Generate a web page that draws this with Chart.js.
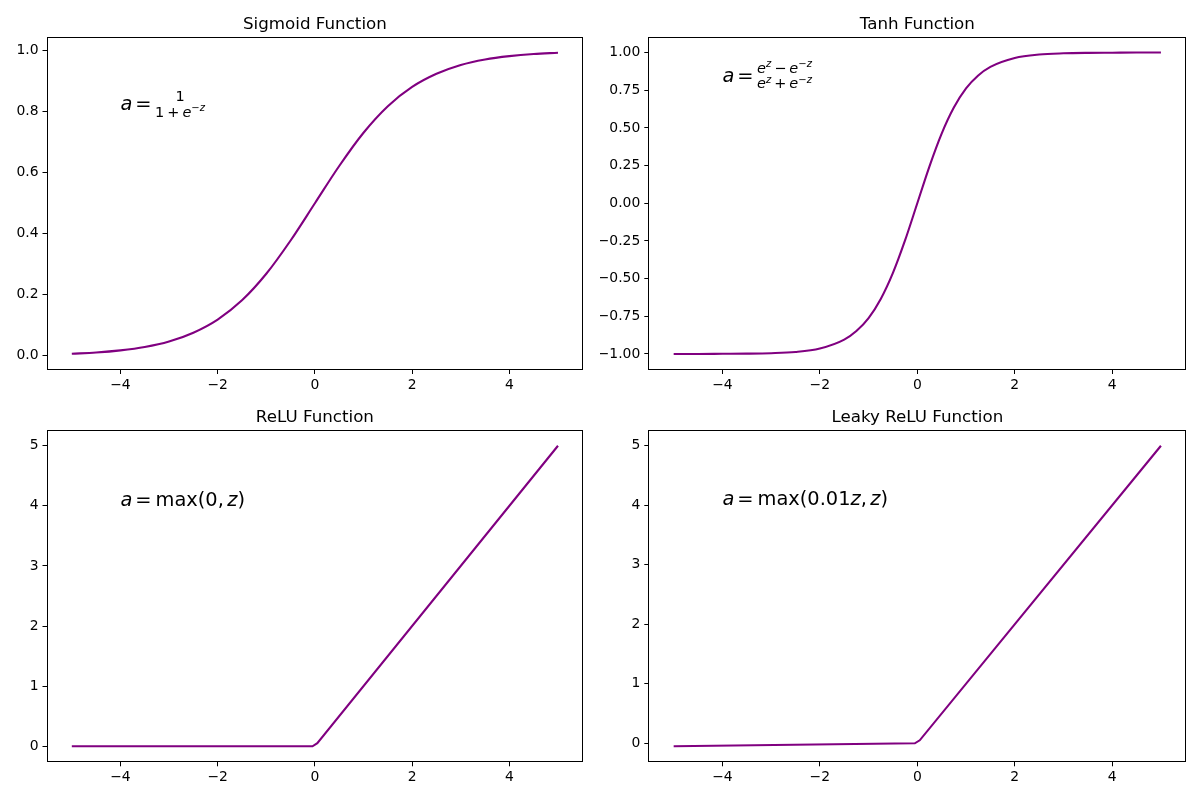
<!DOCTYPE html>
<html lang="en">
<head>
    <meta charset="UTF-8">
    <title>Activation Functions</title>
    <script src="https://cdn.jsdelivr.net/npm/chart.js@4.4.0/dist/chart.umd.min.js"></script>
    <style>
        body { margin: 0; background: #fff; }
        #wrap { position: relative; width: 1200px; height: 800px; }
        canvas { position: absolute; }
    </style>
</head>
<body>
<div id="wrap">
    <canvas id="c1" width="600" height="400" style="left:0;top:0"></canvas>
    <canvas id="c2" width="600" height="400" style="left:600px;top:0"></canvas>
    <canvas id="c3" width="600" height="400" style="left:0;top:400px"></canvas>
    <canvas id="c4" width="600" height="400" style="left:600px;top:400px"></canvas>
</div>
<script>
// values
const sigmoidX = [-5, -4.5, -4, -3.5, -3, -2.5, -2, -1.5, -1, -0.5, 0, 0.5, 1, 1.5, 2, 2.5, 3, 3.5, 4, 4.5, 5];
const sigmoidY = [0.007, 0.011, 0.018, 0.029, 0.047, 0.076, 0.119, 0.182, 0.269, 0.378, 0.500, 0.622, 0.731, 0.818, 0.881, 0.924, 0.953, 0.971, 0.982, 0.989, 0.993];

const tanhX = [-5, -4.5, -4, -3.5, -3, -2.5, -2, -1.5, -1.25, -1, -0.75, -0.5, -0.25, 0, 0.25, 0.5, 0.75, 1, 1.25, 1.5, 2, 2.5, 3, 3.5, 4, 4.5, 5];
const tanhY = [-1.000, -1.000, -0.999, -0.998, -0.995, -0.987, -0.964, -0.905, -0.848, -0.762, -0.635, -0.462, -0.245, 0, 0.245, 0.462, 0.635, 0.762, 0.848, 0.905, 0.964, 0.987, 0.995, 0.998, 0.999, 1.000, 1.000];

const reluX = [-5, -0.05, 0.05, 5];
const reluY = [0, 0, 0.05, 5];

const leakyX = [-5, -0.05, 0.05, 5];
const leakyY = [-0.05, -0.0005, 0.05, 5];

const xTicks = [-4, -2, 0, 2, 4];
const sigmoidTicks = [0, 0.2, 0.4, 0.6, 0.8, 1.0];
const tanhTicks = [-1, -0.75, -0.5, -0.25, 0, 0.25, 0.5, 0.75, 1];
const reluTicks = [0, 1, 2, 3, 4, 5];

const titles = ['Sigmoid Function', 'Tanh Function', 'ReLU Function', 'Leaky ReLU Function'];

const LINE = '#800080';
const FONT = 'DejaVu Sans';
const M = 19.4, S = 14.5, T = 10;   // math text sizes: main, fraction, superscript

function fmt(v, d) {
    return v.toFixed(d).replace('-', '\u2212');
}

// formula pieces: plain runs or {frac: [num, den]}
const sup = -5.5;
const sigmoidFormula = [
    {t: 'a', it: true, size: M},
    {t: '=', size: M, gap: 3},
    {gap: 3.5, frac: [
        [{t: '1', size: S}],
        [{t: '1', size: S}, {t: '+', size: S, gap: 3}, {t: 'e', it: true, size: S, gap: 3},
         {t: '\u2212', size: T, dy: sup}, {t: 'z', it: true, size: T, dy: sup}]
    ]}
];
const tanhFormula = [
    {t: 'a', it: true, size: M},
    {t: '=', size: M, gap: 3},
    {gap: 3.5, frac: [
        [{t: 'e', it: true, size: S}, {t: 'z', it: true, size: T, dy: sup},
         {t: '\u2212', size: S, gap: 3}, {t: 'e', it: true, size: S, gap: 3},
         {t: '\u2212', size: T, dy: sup}, {t: 'z', it: true, size: T, dy: sup}],
        [{t: 'e', it: true, size: S}, {t: 'z', it: true, size: T, dy: sup},
         {t: '+', size: S, gap: 3}, {t: 'e', it: true, size: S, gap: 3},
         {t: '\u2212', size: T, dy: sup}, {t: 'z', it: true, size: T, dy: sup}]
    ]}
];
const reluFormula = [
    {t: 'a', it: true, size: M},
    {t: '=', size: M, gap: 3},
    {t: 'max(0,', size: M, gap: 4},
    {t: 'z', it: true, size: M, gap: 3.5},
    {t: ')', size: M}
];
const leakyFormula = [
    {t: 'a', it: true, size: M},
    {t: '=', size: M, gap: 3},
    {t: 'max(0.01', size: M, gap: 4},
    {t: 'z', it: true, size: M},
    {t: ',', size: M},
    {t: 'z', it: true, size: M, gap: 3.5},
    {t: ')', size: M}
];

function fontOf(r) {
    return (r.it ? 'italic ' : '') + r.size + 'px "' + FONT + '"';
}
function runsWidth(ctx, runs) {
    let w = 0;
    runs.forEach(r => { ctx.font = fontOf(r); w += (r.gap || 0) + ctx.measureText(r.t).width; });
    return w;
}
function drawRuns(ctx, runs, x, y) {
    runs.forEach(r => {
        x += r.gap || 0;
        ctx.font = fontOf(r);
        ctx.fillText(r.t, x, y + (r.dy || 0));
        x += ctx.measureText(r.t).width;
    });
    return x;
}

const framePlugin = {
    id: 'frame',
    afterDraw(chart) {
        const {ctx, chartArea: a} = chart;
        const o = chart.options.plugins.frame;
        ctx.save();
        ctx.strokeStyle = '#000';
        ctx.lineWidth = 1;
        const l = Math.round(a.left) - 0.5, r = Math.round(a.right) + 0.5;
        const t = Math.round(a.top) - 0.5, b = Math.round(a.bottom) + 0.5;
        ctx.strokeRect(l, t, r - l, b - t);

        // title
        ctx.fillStyle = '#000';
        ctx.font = '16.7px "' + FONT + '"';
        ctx.textAlign = 'center';
        ctx.textBaseline = 'alphabetic';
        ctx.fillText(o.title, (a.left + a.right) / 2, a.top - 8.5);

        // formula
        ctx.textAlign = 'left';
        let x = chart.scales.x.getPixelForValue(o.at[0]);
        const y = chart.scales.y.getPixelForValue(o.at[1]) + o.shift;
        o.formula.forEach(item => {
            if (item.frac) {
                x += item.gap || 0;
                const [num, den] = item.frac;
                const nw = runsWidth(ctx, num), dw = runsWidth(ctx, den);
                const w = Math.max(nw, dw);
                drawRuns(ctx, num, x + (w - nw) / 2, y - 9);
                drawRuns(ctx, den, x + (w - dw) / 2, y + 6.5);
                x += w;
            } else {
                x = drawRuns(ctx, [item], x, y);
            }
        });
        ctx.restore();
    }
};

function makeChart(id, cfg) {
    const points = cfg.xs.map((v, i) => ({x: v, y: cfg.ys[i]}));
    new Chart(document.getElementById(id), {
        type: 'line',
        data: {
            datasets: [{
                data: points,
                borderColor: LINE,
                borderWidth: 2.1,
                pointRadius: 0,
                fill: false,
                tension: cfg.smooth ? 0.4 : 0,
                cubicInterpolationMode: cfg.smooth ? 'monotone' : 'default'
            }]
        },
        options: {
            responsive: false,
            animation: false,
            devicePixelRatio: 1,
            layout: {padding: {top: cfg.top, right: cfg.right, left: 0, bottom: 0}},
            plugins: {
                legend: {display: false},
                tooltip: {enabled: false},
                frame: {title: cfg.title, formula: cfg.formula, at: cfg.at, shift: cfg.shift}
            },
            scales: {
                x: {
                    type: 'linear',
                    min: -5.5,
                    max: 5.5,
                    afterBuildTicks: s => { s.ticks = xTicks.map(v => ({value: v})); },
                    afterFit: s => { s.height = cfg.xh; },
                    grid: {drawOnChartArea: false, drawTicks: true, tickLength: 5, color: '#000'},
                    border: {display: false},
                    ticks: {
                        color: '#000', padding: 3, autoSkip: false, maxRotation: 0,
                        font: {family: FONT, size: 13.9},
                        callback: v => fmt(v, 0)
                    }
                },
                y: {
                    type: 'linear',
                    min: cfg.ymin,
                    max: cfg.ymax,
                    afterBuildTicks: s => { s.ticks = cfg.ticks.map(v => ({value: v})); },
                    afterFit: s => { s.width = cfg.yw; },
                    grid: {drawOnChartArea: false, drawTicks: true, tickLength: 5, color: '#000'},
                    border: {display: false},
                    ticks: {
                        color: '#000', padding: 4, autoSkip: false,
                        font: {family: FONT, size: 13.9},
                        callback: v => fmt(v, cfg.dec)
                    }
                }
            }
        },
        plugins: [framePlugin]
    });
}

makeChart('c1', {xs: sigmoidX, ys: sigmoidY, smooth: true, title: titles[0], ticks: sigmoidTicks, dec: 1,
    ymin: -0.043, ymax: 1.043, top: 37.5, right: 17.7, yw: 47.5, xh: 31,
    formula: sigmoidFormula, at: [-4, 0.8], shift: -1.5});
makeChart('c2', {xs: tanhX, ys: tanhY, smooth: true, title: titles[1], ticks: tanhTicks, dec: 2,
    ymin: -1.1, ymax: 1.1, top: 37.5, right: 14.7, yw: 49.3, xh: 31,
    formula: tanhFormula, at: [-4, 0.8], shift: -1});
makeChart('c3', {xs: reluX, ys: reluY, smooth: false, title: titles[2], ticks: reluTicks, dec: 0,
    ymin: -0.25, ymax: 5.25, top: 30.7, right: 17.7, yw: 47.5, xh: 38.7,
    formula: reluFormula, at: [-4, 4], shift: 0});
makeChart('c4', {xs: leakyX, ys: leakyY, smooth: false, title: titles[3], ticks: reluTicks, dec: 0,
    ymin: -0.3025, ymax: 5.2525, top: 30.7, right: 14.7, yw: 49.3, xh: 38.7,
    formula: leakyFormula, at: [-4, 4], shift: 0});
</script>
</body>
</html>
